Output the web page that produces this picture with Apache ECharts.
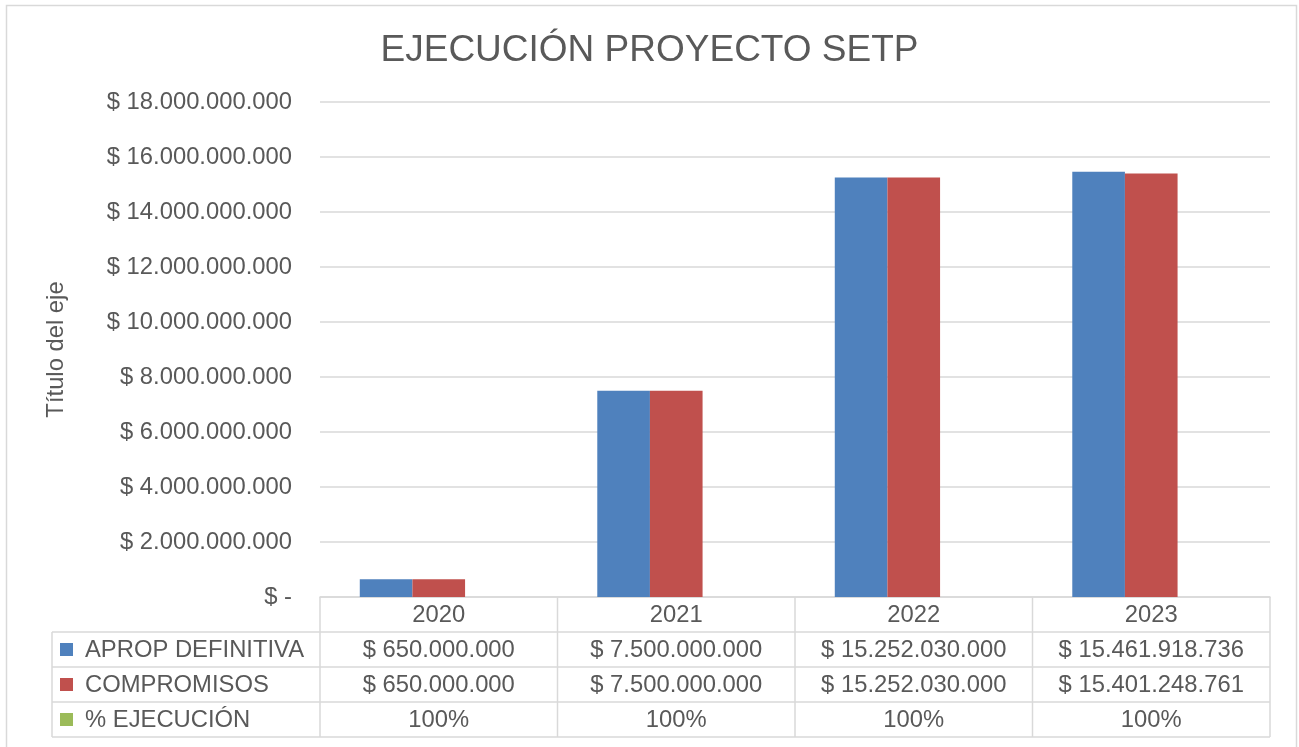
<!DOCTYPE html>
<html><head><meta charset="utf-8">
<script src="https://cdn.jsdelivr.net/npm/echarts@6/dist/echarts.min.js"></script>
<style>html,body{margin:0;padding:0;background:#fff;overflow:hidden}#c{width:1299px;height:747px}</style>
</head><body><div id="c"></div>
<script>
const years = ['2020', '2021', '2022', '2023'];
const apropDefinitiva = [650000000, 7500000000, 15252030000, 15461918736];
const compromisos = [650000000, 7500000000, 15252030000, 15401248761];
const pctEjecucion = [1, 1, 1, 1];
const seriesNames = ['APROP DEFINITIVA', 'COMPROMISOS', '% EJECUCIÓN'];
const colors = ['#4f81bd', '#c0504d', '#9bbb59'];
const yMin = 0, yMax = 18000000000, yStep = 2000000000;

const FONT = 'Liberation Sans, Arial, sans-serif';
const TXT = '#595959';
const LINE = '#d9d9d9';
const FS = 23.8;

function money(v) {
  if (v === 0) return '$ -';
  return '$ ' + String(Math.round(v)).replace(/\B(?=(\d{3})+(?!\d))/g, '.');
}
function pct(v) { return Math.round(v * 100) + '%'; }

const chart = echarts.init(document.getElementById('c'), null, { renderer: 'canvas' });
const G = { left: 320, right: 29, top: 102, bottom: 150 };

chart.setOption({
  animation: false,
  backgroundColor: '#fff',
  color: colors,
  title: {
    text: 'EJECUCIÓN PROYECTO SETP', left: 'center', top: 27,
    textStyle: { fontFamily: FONT, fontSize: 37, fontWeight: 'normal', color: TXT }
  },
  grid: G,
  xAxis: {
    type: 'category', data: years,
    axisLine: { show: true, lineStyle: { color: LINE, width: 1.5 } },
    axisTick: { show: false },
    axisLabel: { show: false },
    splitLine: { show: false }
  },
  yAxis: {
    type: 'value', min: yMin, max: yMax, interval: yStep,
    name: 'Título del eje', nameLocation: 'middle', nameRotate: 90, nameGap: 252,
    nameTextStyle: { fontFamily: FONT, fontSize: FS, color: TXT },
    axisLine: { show: false }, axisTick: { show: false },
    axisLabel: { formatter: money, fontFamily: FONT, fontSize: FS, color: TXT, margin: 28 },
    splitLine: { lineStyle: { color: LINE, width: 1.5 } }
  },
  series: [
    { name: seriesNames[0], type: 'bar', data: apropDefinitiva, barGap: '0%', barCategoryGap: '33.5%' },
    { name: seriesNames[1], type: 'bar', data: compromisos, barGap: '0%', barCategoryGap: '33.5%' },
    { name: seriesNames[2], type: 'bar', data: pctEjecucion, barGap: '0%', barCategoryGap: '33.5%' }
  ]
});

// data table below the plot
const W = 1299, H = 747;
const x0 = G.left, x1 = W - G.right, yBase = H - G.bottom;
const rowH = 35;
const tableLeft = 52;
const step = (x1 - x0) / years.length;
const els = [];
const ln = (xa, ya, xb, yb) => els.push({ type: 'line', shape: { x1: xa, y1: ya, x2: xb, y2: yb }, style: { stroke: LINE, lineWidth: 1.5 }, silent: true });
const txt = (x, y, s, align) => els.push({ type: 'text', x: x, y: y, style: { text: s, fill: TXT, font: FS + 'px ' + FONT, textAlign: align, textVerticalAlign: 'middle' }, silent: true });

// outer border
els.push({ type: 'rect', shape: { x: 6.5, y: 5.5, width: 1290, height: 760 }, style: { fill: null, stroke: LINE, lineWidth: 1.5 }, silent: true, z: -1 });

// horizontal lines
for (let r = 1; r <= 4; r++) ln(tableLeft, yBase + r * rowH, x1, yBase + r * rowH);
// vertical lines
ln(tableLeft, yBase + rowH, tableLeft, yBase + 4 * rowH);
for (let i = 0; i <= years.length; i++) {
  const x = x0 + i * step;
  ln(x, yBase, x, yBase + 4 * rowH);
}
const rows = [apropDefinitiva, compromisos, pctEjecucion];
years.forEach((yr, i) => {
  const cx = chart.convertToPixel({ xAxisIndex: 0 }, yr);
  txt(cx, yBase + rowH / 2 + 1, yr, 'center');
  rows.forEach((arr, r) => {
    txt(cx, yBase + rowH * (r + 1.5) + 1, r === 2 ? pct(arr[i]) : money(arr[i]), 'center');
  });
});
seriesNames.forEach((n, r) => {
  const cy = yBase + rowH * (r + 1.5);
  els.push({ type: 'rect', shape: { x: 60, y: cy - 6.5, width: 13, height: 13 }, style: { fill: colors[r] }, silent: true });
  txt(85, cy + 1, n, 'left');
});

chart.setOption({ graphic: { elements: els } });
</script>
</body></html>
